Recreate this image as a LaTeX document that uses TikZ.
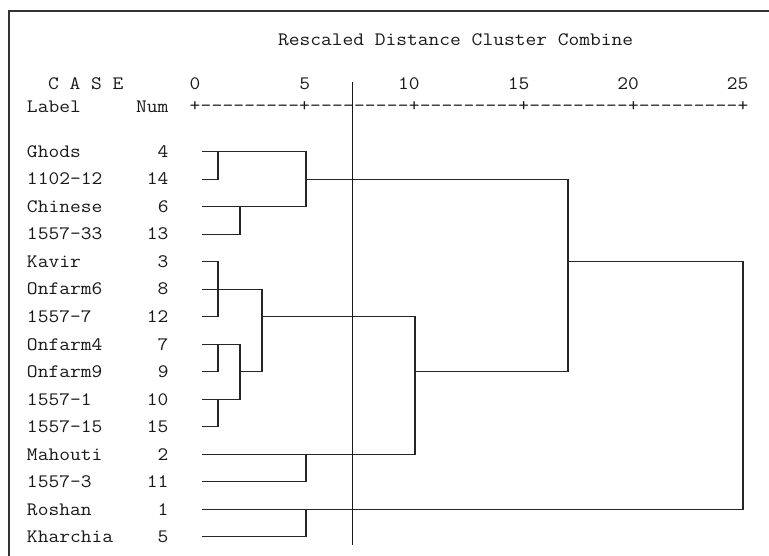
\documentclass[tikz,border=0pt]{standalone}
\usepackage{graphicx}
\newcommand{\mt}[1]{\scalebox{1.1}[1]{#1}}
\tikzset{
  txt/.style={inner sep=0pt, outer sep=0pt, font=\fontsize{19}{22}\selectfont\ttfamily, text=black!90},
  dline/.style={line width=1.2pt, draw=black!85},
  frame/.style={line width=2pt, draw=black!80},
  cut/.style={line width=1pt, draw=black!90}
}
\begin{document}
\begin{tikzpicture}[x=1pt,y=-1pt]
\useasboundingbox (0,0) rectangle (769,556);
\fill[white] (0,0) rectangle (769,556);
% frame
\coordinate (fa) at (9,556);
\coordinate (fb) at (9,11);
\coordinate (fc) at (769,11);
\draw[frame] (fa) -- (fb) -- (fc);
% header
\node[txt, anchor=base west] (title) at (278,46) {\mt{Rescaled Distance Cluster Combine}};
\node[txt, anchor=base west] (case) at (48,90) {\mt{C A S E}};
\node[txt, anchor=base west] (lab) at (27,113) {\mt{Label}};
\node[txt, anchor=base east] (num) at (168.5,113) {\mt{Num}};
\foreach \v [count=\k from 0] in {0,5,10,15,20,25}{
  \node[txt, anchor=base east] (t\k) at ({195+\k*109.6+5.5},90) {\mt{\v}};
}
\foreach \i in {0,...,50}{
  \pgfmathtruncatemacro{\ism}{mod(\i,10)}
  \ifnum\ism=0
    \node[txt, anchor=base] (ax\i) at ({195+\i*10.96},111.5) {\mt{+}};
  \else
    \node[txt, anchor=base] (ax\i) at ({195+\i*10.96},111.5) {\mt{-}};
  \fi
}
% rows
\foreach \name/\n [count=\k] in {Ghods/4,1102-12/14,Chinese/6,1557-33/13,Kavir/3,Onfarm6/8,1557-7/12,Onfarm4/7,Onfarm9/9,1557-1/10,1557-15/15,Mahouti/2,1557-3/11,Roshan/1,Kharchia/5}{
  \pgfmathsetmacro{\ry}{151.7+27.5*(\k-1)}
  \node[txt, anchor=base west] (nl\k) at (27,\ry+5.8) {\mt{\name}};
  \node[txt, anchor=base east] (nn\k) at (168.5,\ry+5.8) {\mt{\n}};
  \coordinate (L\k) at (202,\ry);
}
% merge levels
\coordinate (Xa) at (218,0);
\coordinate (Xb) at (240,0);
\coordinate (Xc) at (262,0);
\coordinate (Xd) at (306,0);
\coordinate (Xe) at (415,0);
\coordinate (Xf) at (568,0);
\coordinate (Xg) at (743,0);
% dendrogram
\draw[dline] (L1) -- (L1-|Xd) -- (L3-|Xd) -- (L3);
\draw[dline] (L2) -- (L2-|Xa) -- (L1-|Xa);
\draw[dline] (L4) -- (L4-|Xb) -- (L3-|Xb);
\draw[dline] (L2-|Xd) -- (L2-|Xf);
\draw[dline] (L5) -- (L5-|Xa) -- (L7-|Xa) -- (L7);
\draw[dline] (L6) -- (L6-|Xc) -- (L9-|Xc) -- (L9-|Xb);
\draw[dline] (L8) -- (L8-|Xb) -- (L10-|Xb) -- (L10);
\draw[dline] (L8-|Xa) -- (L9-|Xa) -- (L9);
\draw[dline] (L10-|Xa) -- (L11-|Xa) -- (L11);
\draw[dline] (L7-|Xc) -- (L7-|Xe) -- (L12-|Xe) -- (L12);
\draw[dline] (L12-|Xd) -- (L13-|Xd) -- (L13);
\draw[dline] (L9-|Xe) -- (L9-|Xf);
\draw[dline] (L2-|Xf) -- (L9-|Xf);
\draw[dline] (L5-|Xf) -- (L5-|Xg) -- (L14-|Xg) -- (L14);
\draw[dline] (L14-|Xd) -- (L15-|Xd) -- (L15);
% cut line
\coordinate (ct) at (352,82);
\coordinate (cb) at (352,545);
\draw[cut] (ct) -- (cb);
\end{tikzpicture}
\end{document}
